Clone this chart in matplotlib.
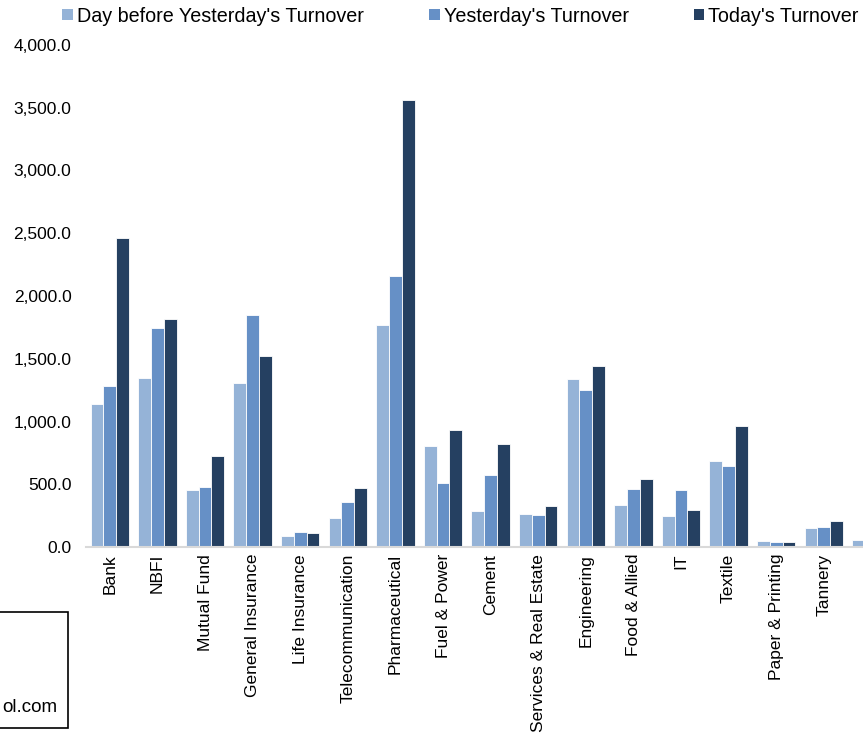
import numpy as np
import matplotlib
matplotlib.use("Agg")
import matplotlib.pyplot as plt
from matplotlib.patches import Rectangle, Patch

plt.rcParams['font.family'] = ['Liberation Sans', 'DejaVu Sans']

categories = ["Bank", "NBFI", "Mutual Fund", "General Insurance", "Life Insurance",
              "Telecommunication", "Pharmaceutical", "Fuel & Power", "Cement",
              "Services & Real Estate", "Engineering", "Food & Allied", "IT",
              "Textile", "Paper & Printing", "Tannery", "Jute"]
day_before = [1140, 1345, 458, 1305, 88, 230, 1765, 808, 288, 264, 1338, 336, 246,
              686, 49, 148, 57]
yesterday = [1285, 1742, 476, 1850, 118, 360, 2160, 511, 572, 251, 1248, 460, 458,
             649, 38, 160, np.nan]
today = [2460, 1820, 724, 1524, 110, 471, 3560, 930, 823, 328, 1440, 545, 294,
         962, 42, 205, np.nan]
series_names = ["Day before Yesterday's Turnover", "Yesterday's Turnover", "Today's Turnover"]
colors = ["#95B3D7", "#6690C6", "#254061"]
yticks = [0, 500, 1000, 1500, 2000, 2500, 3000, 3500, 4000]

W, H = 863, 736
fig = plt.figure(figsize=(W / 100, H / 100), dpi=100)
ax = fig.add_axes([86 / W, (H - 547) / H, (W - 86) / W, (547 - 45) / H])

x = np.arange(len(categories))
w = 0.27
for i, (vals, c) in enumerate(zip([day_before, yesterday, today], colors)):
    ax.bar(x + (i - 1) * w, vals, width=w, color=c, edgecolor="white", linewidth=0.6,
           label=series_names[i])

spacing = 47.6
ax.set_xlim(-0.5, (W - 86) / spacing - 0.5)
ax.set_ylim(0, 4000)
ax.set_yticks(yticks)
ax.set_yticklabels([f"{v:,.1f}" for v in yticks], fontsize=12.5)
shown = len(categories) - 1  # last category's label lies beyond the crop
ax.set_xticks(x[:shown])
ax.set_xticklabels(categories[:shown], rotation=90, fontsize=12.5)
ax.tick_params(axis='both', length=0)
ax.tick_params(axis='x', pad=5)
ax.tick_params(axis='y', pad=10.5)
for s in ["top", "right", "left"]:
    ax.spines[s].set_visible(False)
ax.spines["bottom"].set_color("#D9D9D9")
ax.spines["bottom"].set_linewidth(1.5)

handles = [Patch(facecolor=c, edgecolor='none') for c in colors]
fig.legend(handles, series_names, loc="center left", bbox_to_anchor=(62 / W, 1 - 16 / H),
           ncol=3, frameon=False, fontsize=14.2, handlelength=0.55, handleheight=0.55,
           handletextpad=0.2, columnspacing=3.3, borderaxespad=0, borderpad=0)

fig.patches.append(Rectangle((-10 / W, (H - 728) / H), 78 / W, 116 / H,
                             transform=fig.transFigure, fill=False,
                             edgecolor="black", linewidth=1.2))
fig.text(57 / W, 1 - 712 / H, "ol.com", ha="right", va="baseline", fontsize=13.5)

fig.savefig("out.png", dpi=100)
